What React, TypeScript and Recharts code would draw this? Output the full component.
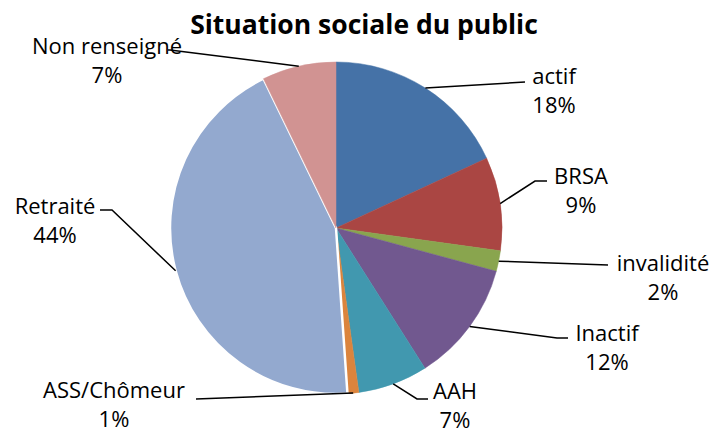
import { Cell, Pie, PieChart } from "recharts";

// Situation sociale du public — parts en %
const categories = [
  "actif",
  "BRSA",
  "invalidité",
  "Inactif",
  "AAH",
  "ASS/Chômeur",
  "Retraité",
  "Non renseigné",
];
const values = [18.1, 9.1, 2.0, 11.8, 6.8, 1.1, 43.9, 7.2];
const colors = [
  "#4572A7",
  "#AA4643",
  "#89A54E",
  "#71588F",
  "#4198AF",
  "#DB843D",
  "#93A9CF",
  "#D19392",
];

const data = categories.map((name, i) => ({ name, value: values[i] }));

// Placement des étiquettes (texte + coude du trait de rappel), en px
const labelLayout = [
  { tx: 554, ty: 75, elbow: [525, 82], end: 525 },
  { tx: 581, ty: 175, elbow: [535, 181], end: 547 },
  { tx: 663, ty: 262, elbow: [608, 265], end: 608 },
  { tx: 607, ty: 332, elbow: [557, 338], end: 568 },
  { tx: 455, ty: 390, elbow: [417, 399], end: 428 },
  { tx: 114, ty: 389, elbow: [196, 399], end: 196 },
  { tx: 55, ty: 205, elbow: [112, 210], end: 100 },
  { tx: 107, ty: 45, elbow: [170, 50], end: 168 },
];

const FONT = "'Open Sans', sans-serif";
const RAD = Math.PI / 180;

function renderLabel(props: any) {
  const { cx, cy, midAngle, outerRadius, index, percent, name } = props;
  const layout = labelLayout[index];
  const sx = cx + outerRadius * Math.cos(-midAngle * RAD);
  const sy = cy + outerRadius * Math.sin(-midAngle * RAD);
  const [ex, ey] = layout.elbow;
  return (
    <g key={`label-${index}`}>
      <polyline
        points={`${sx},${sy} ${ex},${ey} ${layout.end},${ey}`}
        fill="none"
        stroke="#000"
        strokeWidth={1.5}
      />
      <text
        x={layout.tx}
        y={layout.ty}
        textAnchor="middle"
        dominantBaseline="central"
        fontSize={22}
        fontFamily={FONT}
        fill="#000"
      >
        {name}
      </text>
      <text
        x={layout.tx}
        y={layout.ty + 29}
        textAnchor="middle"
        dominantBaseline="central"
        fontSize={22}
        fontFamily={FONT}
        fill="#000"
      >
        {`${Math.round(percent * 100)}%`}
      </text>
    </g>
  );
}

export default function App() {
  return (
    <div
      style={{
        position: "absolute",
        left: 0,
        top: 0,
        width: 714,
        height: 434,
        background: "#fff",
      }}
    >
      <div
        style={{
          position: "absolute",
          left: 0,
          top: 6,
          width: 728,
          textAlign: "center",
          fontFamily: FONT,
          fontWeight: 700,
          fontSize: 26.5,
          color: "#000",
          zIndex: 2,
        }}
      >
        Situation sociale du public
      </div>
      <PieChart
        width={714}
        height={434}
        margin={{ top: 0, right: 0, bottom: 0, left: 0 }}
      >
        <Pie
          data={data}
          dataKey="value"
          nameKey="name"
          cx={336}
          cy={228}
          outerRadius={166}
          startAngle={90}
          endAngle={-270}
          label={renderLabel}
          labelLine={false}
          isAnimationActive={false}
        >
          {data.map((d, i) => (
            <Cell
              key={d.name}
              fill={colors[i]}
              stroke={d.name === "Retraité" ? "#fff" : colors[i]}
              strokeWidth={d.name === "Retraité" ? 2.5 : 0.5}
            />
          ))}
        </Pie>
      </PieChart>
    </div>
  );
}
